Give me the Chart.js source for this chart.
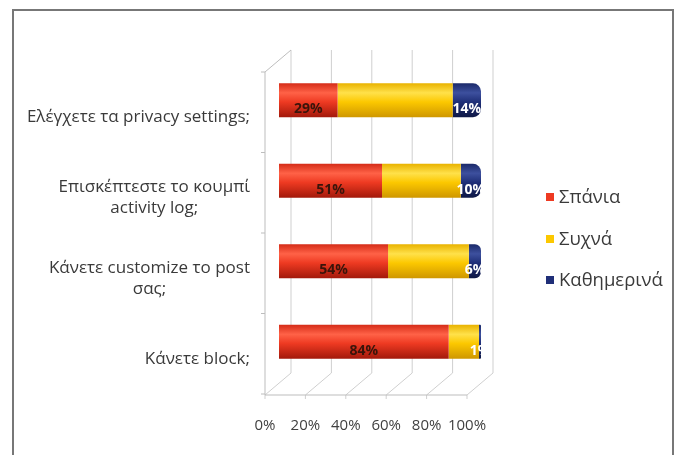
<!DOCTYPE html>
<html>
<head>
<meta charset="utf-8">
<script src="https://cdn.jsdelivr.net/npm/chart.js@4.4.1/dist/chart.umd.min.js"></script>
<style>
  html, body { margin: 0; padding: 0; background: #fff; }
  #marco { position: absolute; left: 12px; top: 9px; width: 658px; height: 460px; border: 2px solid #777; border-bottom: none; }
  #caja { position: absolute; left: 0; top: 0; width: 679px; height: 455px; }
</style>
</head>
<body>
<div id="marco"></div>
<div id="caja"><canvas id="grafico"></canvas></div>
<script>
// Χρήση ρυθμίσεων απορρήτου - ποσοστά ανά συχνότητα
const categorias = [
  "Ελέγχετε τα privacy settings;",
  ["Επισκέπτεστε το κουμπί", "activity log;"],
  ["Κάνετε customize το post", "σας;"],
  "Κάνετε block;"
];
const series = ["Σπάνια", "Συχνά", "Καθημερινά"];
const spania = [29, 51, 54, 84];
const syxna = [57, 39, 40, 15];
const kathimerina = [14, 10, 6, 1];
const ticksX = [0, 20, 40, 60, 80, 100];

const colores = ['#ee3a22', '#fcc800', '#1f2f78'];
const tonos = [
  ['#d52c18', '#ff6247', '#ee3a22', '#a3190b'],
  ['#e9b300', '#ffe14a', '#fcc800', '#cf9700'],
  ['#1b2a6a', '#3d509e', '#1f2f78', '#0f1846']
];
const FUENTE = "'Open Sans', 'Noto Sans', sans-serif";

// gradiente "cilindro" para cada barra, calculado con la escala y
function cilindro(idx) {
  return (ctx) => {
    const chart = ctx.chart;
    const area = chart.chartArea;
    const y = chart.scales.y;
    if (!area || !y) return colores[idx];
    const g = chart.ctx.createLinearGradient(0, area.top, 0, area.bottom);
    const h = area.bottom - area.top;
    const grosor = (h / categorias.length) * 0.42;
    const t = tonos[idx];
    categorias.forEach((c, i) => {
      const yc = y.getPixelForValue(i);
      const a = yc - grosor / 2, b = yc + grosor / 2;
      const p = (v) => Math.min(1, Math.max(0, (v - area.top) / h));
      g.addColorStop(p(a), t[0]);
      g.addColorStop(p(a + grosor * 0.28), t[1]);
      g.addColorStop(p(a + grosor * 0.55), t[2]);
      g.addColorStop(p(b), t[3]);
    });
    return g;
  };
}

const paredes = {
  id: 'paredes',
  beforeDatasetsDraw(chart) {
    const {ctx, chartArea: a, scales: {x, y}} = chart;
    const atras = 12, frente = -14, arriba = -10, abajo = 13;
    ctx.save();
    ctx.lineWidth = 1;
    ctx.strokeStyle = '#cfcfcf';
    ticksX.forEach(v => {
      const px = x.getPixelForValue(v);
      ctx.beginPath();
      ctx.moveTo(px + atras, a.top + arriba);
      ctx.lineTo(px + atras, a.bottom - 9);
      ctx.lineTo(px + frente, a.bottom + abajo);
      ctx.lineTo(px + frente, a.bottom + abajo + 4);
      ctx.stroke();
    });
    const x0 = x.getPixelForValue(0);
    ctx.strokeStyle = '#bdbdbd';
    ctx.beginPath();
    ctx.moveTo(x0 + atras, a.top + arriba);
    ctx.lineTo(x0 + frente, a.top + 12);
    ctx.lineTo(x0 + frente, a.bottom + abajo);
    ctx.lineTo(x.getPixelForValue(100) + frente, a.bottom + abajo);
    ctx.stroke();
    for (let i = 0; i <= categorias.length; i++) {
      const py = y.getPixelForValue(i - 0.5) + 12;
      ctx.beginPath();
      ctx.moveTo(x0 + frente, py);
      ctx.lineTo(x0 + frente - 4, py);
      ctx.stroke();
    }
    ctx.restore();
  }
};

const etiquetas = {
  id: 'etiquetas',
  afterDatasetsDraw(chart) {
    const {ctx, scales: {x}} = chart;
    const limite = x.getPixelForValue(100) + 5;
    ctx.save();
    ctx.font = "bold 14px " + FUENTE;
    ctx.textAlign = 'center';
    ctx.textBaseline = 'middle';
    [0, 2].forEach(d => {
      chart.getDatasetMeta(d).data.forEach((bar, i) => {
        const v = chart.data.datasets[d].data[i];
        const cx = (bar.x + bar.base) / 2;
        ctx.save();
        ctx.beginPath();
        ctx.rect(0, 0, limite, chart.height);
        ctx.clip();
        ctx.fillStyle = d === 0 ? '#3a140a' : '#ffffff';
        ctx.fillText(v + '%', cx, bar.y + 9);
        ctx.restore();
      });
    });
    ctx.restore();
  }
};

const categoriasEje = {
  id: 'categoriasEje',
  afterDraw(chart) {
    const {ctx, scales: {y}} = chart;
    const derecha = 250, alto = 21;
    ctx.save();
    ctx.font = "17px " + FUENTE;
    ctx.fillStyle = '#3a3a3a';
    ctx.textAlign = 'center';
    ctx.textBaseline = 'middle';
    categorias.forEach((c, i) => {
      const lineas = Array.isArray(c) ? c : [c];
      const ancho = Math.max(...lineas.map(l => ctx.measureText(l).width));
      const cx = derecha - ancho / 2;
      const yc = y.getPixelForValue(i) + 17;
      lineas.forEach((l, j) => {
        ctx.fillText(l, cx, yc + (j - (lineas.length - 1) / 2) * alto);
      });
    });
    ctx.restore();
  }
};

const leyenda = {
  id: 'leyenda',
  afterDraw(chart) {
    const ctx = chart.ctx;
    const ys = [197, 239, 280];
    ctx.save();
    ctx.font = "18.5px " + FUENTE;
    ctx.textBaseline = 'middle';
    series.forEach((s, i) => {
      ctx.fillStyle = colores[i];
      ctx.fillRect(546, ys[i] - 4, 8, 8);
      ctx.fillStyle = '#3a3a3a';
      ctx.fillText(s, 559, ys[i] + 1);
    });
    ctx.restore();
  }
};

const ctx = document.getElementById('grafico').getContext('2d');
const miGrafico = new Chart(ctx, {
  type: 'bar',
  data: {
    labels: categorias,
    datasets: [
      {label: series[0], data: spania, backgroundColor: cilindro(0), borderRadius: 7, borderSkipped: 'right'},
      {label: series[1], data: syxna, backgroundColor: cilindro(1), borderRadius: 0},
      {label: series[2], data: kathimerina, backgroundColor: cilindro(2), borderRadius: 8, borderSkipped: 'left'}
    ]
  },
  options: {
    indexAxis: 'y',
    responsive: true,
    maintainAspectRatio: false,
    animation: false,
    layout: {padding: {left: 279, right: 198, top: 60, bottom: 0}},
    datasets: {bar: {barPercentage: 0.42, categoryPercentage: 1}},
    plugins: {legend: {display: false}, tooltip: {enabled: false}},
    scales: {
      x: {
        stacked: true,
        min: 0,
        max: 100,
        grid: {display: false},
        border: {display: false},
        afterBuildTicks: (s) => { s.ticks = ticksX.map(v => ({value: v})); },
        afterFit: (s) => { s.height = 73; },
        ticks: {
          callback: (v) => v + '%',
          labelOffset: -14,
          padding: 27,
          autoSkip: false,
          maxRotation: 0,
          minRotation: 0,
          color: '#404040',
          font: {family: FUENTE, size: 15}
        }
      },
      y: {
        stacked: true,
        display: false
      }
    }
  },
  plugins: [paredes, etiquetas, categoriasEje, leyenda]
});
</script>
</body>
</html>
